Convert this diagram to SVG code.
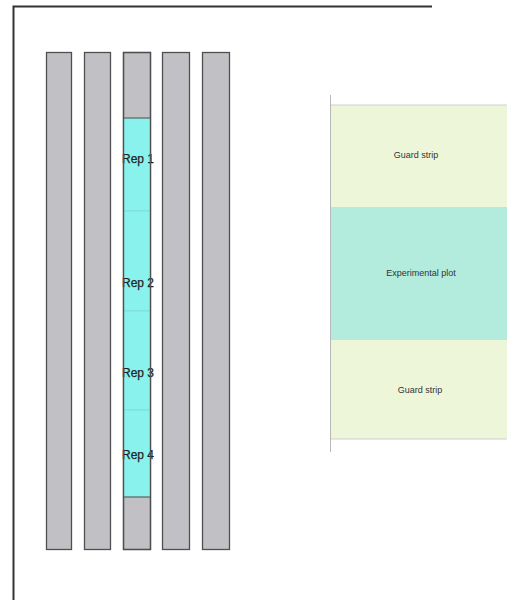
<svg xmlns="http://www.w3.org/2000/svg" width="507" height="600" viewBox="0 0 507 600">
<style>
.strip{fill:#c1c1c5;stroke:#4f4f4f;stroke-width:1.3}
.rep{fill:#8af2ec;stroke:#7fd8d4;stroke-width:0.8}
.lbl{font-family:"Liberation Sans",Arial,sans-serif;font-size:12px;fill:#222;text-anchor:middle;stroke:#222;stroke-width:0.25}
.small{font-family:"Liberation Sans",Arial,sans-serif;font-size:9px;fill:#333;text-anchor:middle}
</style>
<rect width="507" height="600" fill="#fff"/>
<g id="frame">
<path d="M432 6.5 H13.5 V600" fill="none" stroke="#333" stroke-width="2"/>
</g>
<g id="strip1"><rect class="strip" x="46.5" y="52.5" width="25" height="497"/></g>
<g id="strip2"><rect class="strip" x="84.5" y="52.5" width="26" height="497"/></g>
<g id="strip3">
<rect class="strip" x="123.5" y="52.5" width="27" height="497"/>
</g>
<g id="strip4"><rect class="strip" x="162.5" y="52.5" width="27" height="497"/></g>
<g id="strip5"><rect class="strip" x="202.5" y="52.5" width="27" height="497"/></g>
<g id="rep1"><rect class="rep" x="124" y="118" width="26" height="93"/><text class="lbl" x="138" y="163">Rep 1</text></g>
<g id="rep2"><rect class="rep" x="124" y="211" width="26" height="100"/><text class="lbl" x="138" y="287">Rep 2</text></g>
<g id="rep3"><rect class="rep" x="124" y="311" width="26" height="99"/><text class="lbl" x="138" y="377">Rep 3</text></g>
<g id="rep4"><rect class="rep" x="124" y="410" width="26" height="87"/><text class="lbl" x="138" y="459">Rep 4</text></g>
<g id="strip3-border"><rect x="123.5" y="52.5" width="27" height="497" fill="none" stroke="#4f4f4f" stroke-width="1.3"/><line x1="123.5" y1="118" x2="150.5" y2="118" stroke="#4f4f4f" stroke-width="1"/><line x1="123.5" y1="497" x2="150.5" y2="497" stroke="#4f4f4f" stroke-width="1"/></g>
<g id="guard-top"><rect x="330" y="105" width="177" height="102" fill="#eef6d9"/><line x1="330" y1="105" x2="507" y2="105" stroke="#cfcfcf" stroke-width="1"/><text class="small" x="416" y="158">Guard strip</text></g>
<g id="experimental"><rect x="330" y="207" width="177" height="133" fill="#b3ebdc"/><text class="small" x="421" y="276">Experimental plot</text></g>
<g id="guard-bottom"><rect x="330" y="340" width="177" height="99" fill="#eef6d9"/><line x1="330" y1="439" x2="507" y2="439" stroke="#cfcfcf" stroke-width="1"/><text class="small" x="420" y="393">Guard strip</text></g>
<g id="axis"><line x1="330.5" y1="95" x2="330.5" y2="452" stroke="#b8b8b8" stroke-width="1"/></g>
</svg>
